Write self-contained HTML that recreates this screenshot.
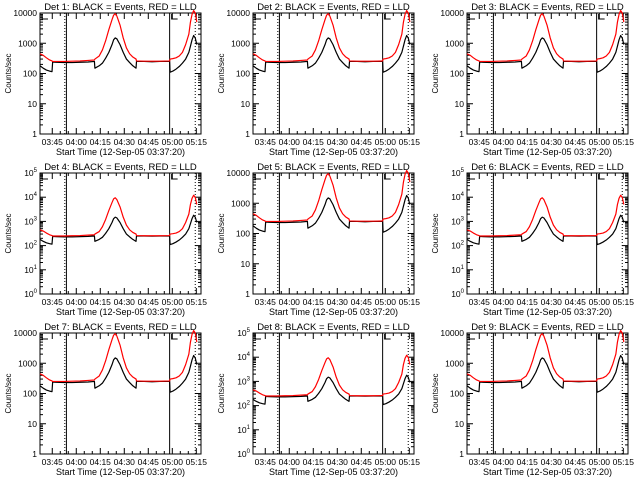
<!DOCTYPE html>
<html><head><meta charset="utf-8"><style>
html,body{margin:0;padding:0;background:#fff;}
svg{display:block;font-family:"Liberation Sans",sans-serif;}
</style></head><body>
<svg id="chart" width="640" height="480" viewBox="0 0 640 480" xmlns="http://www.w3.org/2000/svg"></svg>
<script>
// Time in minutes since 03:37:20
const times = [0,2,4,6,7.5,7.9,10,15,20,25,30,34,34.3,37,39,41,43,45,46,47,48,50,52,54,56,58,60,60.3,65,70,75,81,81.3,83,85,87,89,91,93,94,95,96,97,98];
const blackEvents = [180,150,130,120,115,240,235,230,230,235,240,250,150,180,220,320,500,900,1300,1500,1400,900,500,300,230,180,150,250,250,245,250,250,110,120,140,170,220,300,500,800,1300,1800,1500,900];
const redLLD = [450,400,330,280,260,250,250,250,255,260,270,280,300,380,600,1200,2800,6000,8500,9500,8000,4000,1500,700,450,350,300,260,255,255,255,260,300,310,330,380,500,900,2000,5000,9000,12000,10000,5000];
const detectors = [1,2,3,4,5,6,7,8,9];
const detDecades = [4,4,4,5,4,5,4,5,4];
const timeTickLabels = ["03:45","04:00","04:15","04:30","04:45","05:00","05:15"];
const timeTickMinutes = [7.667,22.667,37.667,52.667,67.667,82.667,97.667];
const markerMinutes = [15.5,16.5,81,97];
const NS="http://www.w3.org/2000/svg";
const svg=document.getElementById('chart');
function mk(tag,attrs,parent){const e=document.createElementNS(NS,tag);for(const k in attrs)e.setAttribute(k,attrs[k]);(parent||svg).appendChild(e);return e;}
detectors.forEach((det,i)=>{
  const col=i%3,row=Math.floor(i/3);
  const ox=[0,213,427][col], oy=row*160;
  const L=ox+40,R=ox+201,T=oy+13,B=oy+134;
  const dec=detDecades[i];
  const g=mk('g',{});
  
  
  const tMax=100.6;
  const xs=t=>L+(t/tMax)*(R-L);
  const ys=v=>B-Math.log10(v)/dec*(B-T);
  const fr=mk('rect',{x:L,y:T,width:R-L,height:B-T,fill:'none',stroke:'#000','stroke-width':1},g);
  
  
  for(let d=0;d<=dec;d++){
    const y=ys(Math.pow(10,d));
    mk('line',{x1:L,y1:y,x2:L+6,y2:y,stroke:'#000'},g);
    mk('line',{x1:R,y1:y,x2:R-6,y2:y,stroke:'#000'},g);
    if(d<dec){for(let m=2;m<10;m++){const ym=ys(m*Math.pow(10,d));
      mk('line',{x1:L,y1:ym,x2:L+3,y2:ym,stroke:'#000'},g);
      mk('line',{x1:R,y1:ym,x2:R-3,y2:ym,stroke:'#000'},g);}}
    const tx=mk('text',{x:L-3,y:y+3,'font-size':8.5,'text-anchor':'end'},g);
    
    
    if(dec===4){tx.textContent=String(Math.pow(10,d));}
    else{tx.textContent='10';const sp=mk('tspan',{dy:-4,'font-size':6},tx);sp.textContent=String(d);}
  }
  timeTickMinutes.forEach((tm,k)=>{
    const x=xs(tm);
    mk('line',{x1:x,y1:B,x2:x,y2:B-6,stroke:'#000'},g);
    mk('line',{x1:x,y1:T,x2:x,y2:T+6,stroke:'#000'},g);
    for(let m=1;m<3;m++){const xm=xs(tm+m*5);if(xm<R){mk('line',{x1:xm,y1:B,x2:xm,y2:B-3,stroke:'#000'},g);mk('line',{x1:xm,y1:T,x2:xm,y2:T+3,stroke:'#000'},g);}}
    const tl=mk('text',{x:x,y:B+11,'font-size':8.5,'text-anchor':'middle'},g);
    
    
    tl.textContent=timeTickLabels[k];
  });
  markerMinutes.forEach((tm,k)=>{
    const x=xs(tm);
    const ln=mk('line',{x1:x,y1:T,x2:x,y2:B,stroke:'#000','stroke-width':1,'stroke-dasharray':(k===0||k===3)?'1,2':'none'},g);
    
    
  });
  mk('path',{d:`M${L+2} ${T+1}V${T+6}H${L+8}M${xs(81)+2} ${T+1}V${T+6}H${xs(81)+8}`,fill:'none',stroke:'#000'},g);
  const seg=(arr,color,name)=>{
    let d='';
    for(let j=0;j<times.length;j++){
      const x=xs(times[j]),y=ys(arr[j]);
      d+=(j===0?'M':'L')+x+' '+y;
    }
    const p=mk('path',{d:d,fill:'none',stroke:color,'stroke-width':1.2,'stroke-linejoin':'round'},g);
    
    
  };
  seg(blackEvents,'#000','events-series');
  seg(redLLD,'#ff0000','lld-series');
  const ti=mk('text',{x:(L+R)/2,y:oy+10,'font-size':9.5,'text-anchor':'middle'},g);
  
  
  ti.textContent='Det '+det+': BLACK = Events, RED = LLD';
  const xl=mk('text',{x:(L+R)/2,y:B+21,'font-size':9,'text-anchor':'middle'},g);
  
  
  xl.textContent='Start Time (12-Sep-05 03:37:20)';
  const yl=mk('text',{x:0,y:0,'font-size':8,'text-anchor':'middle',transform:`translate(${ox+11},${(T+B)/2}) rotate(-90)`},g);
  
  
  yl.textContent='Counts/sec';
});
</script>
</body></html>
